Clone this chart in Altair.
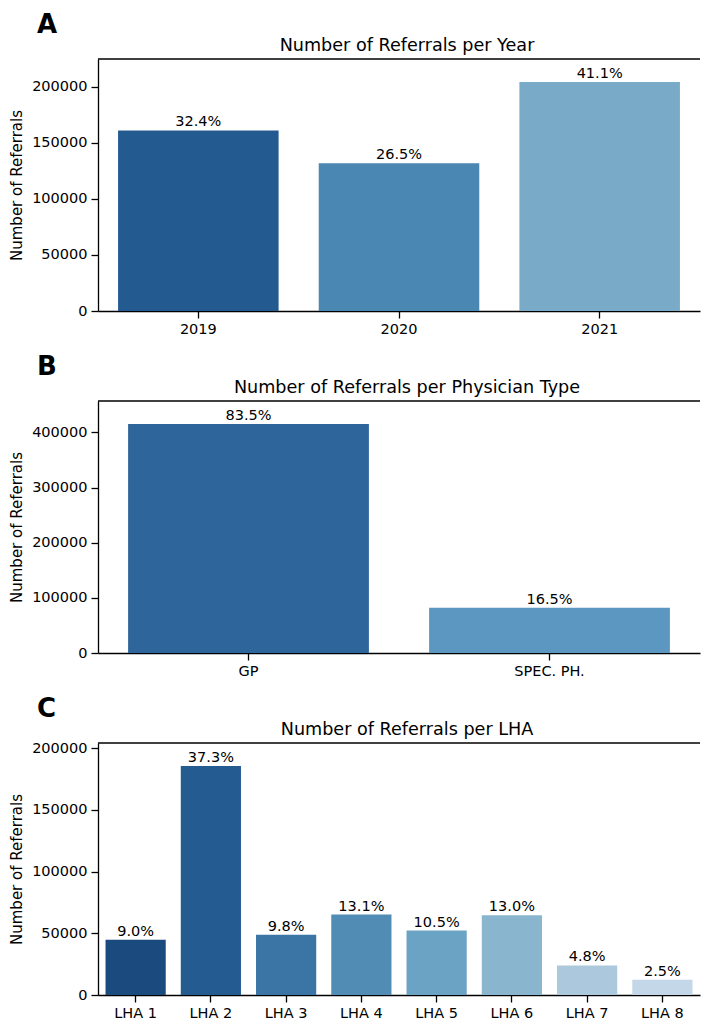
import altair as alt
import pandas as pd

# ---- data ----
years = ["2019", "2020", "2021"]
year_counts = [161200, 131800, 204500]

phys_types = ["GP", "SPEC. PH."]
phys_counts = [415400, 82100]

lhas = ["LHA 1", "LHA 2", "LHA 3", "LHA 4", "LHA 5", "LHA 6", "LHA 7", "LHA 8"]
lha_counts = [44800, 185600, 48800, 65200, 52200, 64700, 23900, 12400]

year_colors = ["#235b91", "#4a87b3", "#79aac8"]
phys_colors = ["#2e659b", "#5b97c0"]
lha_colors = ["#1b4a7e", "#245c92", "#3a75a6", "#518cb4",
              "#6ba3c4", "#8ab5cf", "#abc8dc", "#c4d7e8"]

year_ticks = [0, 50000, 100000, 150000, 200000]
phys_ticks = [0, 100000, 200000, 300000, 400000]
lha_ticks = [0, 50000, 100000, 150000, 200000]

W = 602
H = 252
FONT = "DejaVu Sans"
FS = 14.5


def make_df(cats, counts):
    total = sum(counts)
    return pd.DataFrame({
        "cat": cats,
        "value": counts,
        "label": [f"{v / total * 100:.1f}%" for v in counts],
    })


def panel(cats, counts, colors, ticks, letter, title):
    df = make_df(cats, counts)
    ymax = max(counts) * 1.1
    x = alt.X("cat:N", sort=cats, title=None,
              scale=alt.Scale(paddingInner=0.2, paddingOuter=0.1),
              axis=alt.Axis(labelAngle=0))
    y = alt.Y("value:Q", title="Number of Referrals",
              scale=alt.Scale(domain=[0, ymax], nice=False, zero=True),
              axis=alt.Axis(values=ticks, format="d", grid=False))
    base = alt.Chart(df).encode(x=x, y=y)
    bars = base.mark_bar().encode(
        color=alt.Color("cat:N", scale=alt.Scale(domain=cats, range=colors), legend=None)
    )
    labels = base.mark_text(baseline="alphabetic", dy=-4, font=FONT,
                            fontSize=FS, color="black").encode(text="label:N")
    topline = alt.Chart(pd.DataFrame({"k": [0]})).mark_rule(
        color="black", strokeWidth=1.3
    ).encode(x=alt.value(0), x2=alt.value(W), y=alt.value(0))
    letter_mark = alt.Chart(pd.DataFrame({"t": [letter]})).mark_text(
        align="left", baseline="alphabetic", font=FONT, fontSize=26,
        fontWeight="bold", color="black"
    ).encode(x=alt.value(-61), y=alt.value(-26), text="t:N")
    title_mark = alt.Chart(pd.DataFrame({"t": [title]})).mark_text(
        align="center", baseline="alphabetic", font=FONT, fontSize=17.6,
        color="black"
    ).encode(x=alt.value(W / 2 + 8), y=alt.value(-8), text="t:N")
    return alt.layer(bars, labels, topline, letter_mark, title_mark).properties(
        width=W, height=H
    )


pa = panel(years, year_counts, year_colors, year_ticks, "A", "Number of Referrals per Year")
pb = panel(phys_types, phys_counts, phys_colors, phys_ticks, "B",
           "Number of Referrals per Physician Type")
pc = panel(lhas, lha_counts, lha_colors, lha_ticks, "C", "Number of Referrals per LHA")

chart = alt.vconcat(pa, pb, pc, spacing=18).resolve_scale(
    color="independent", x="independent", y="independent"
).properties(
    padding={"left": 1, "top": 4, "right": 0, "bottom": 5}
).configure_view(stroke=None).configure_axis(
    labelFont=FONT, labelFontSize=FS, labelColor="black",
    titleFont=FONT, titleFontSize=15, titleColor="black", titleFontWeight="normal",
    domainColor="black", domainWidth=1.3, tickColor="black", tickWidth=1.3,
    tickSize=7, labelPadding=4, titlePadding=7
)

chart.save("out.html", embed_options={"renderer": "svg", "actions": False})
